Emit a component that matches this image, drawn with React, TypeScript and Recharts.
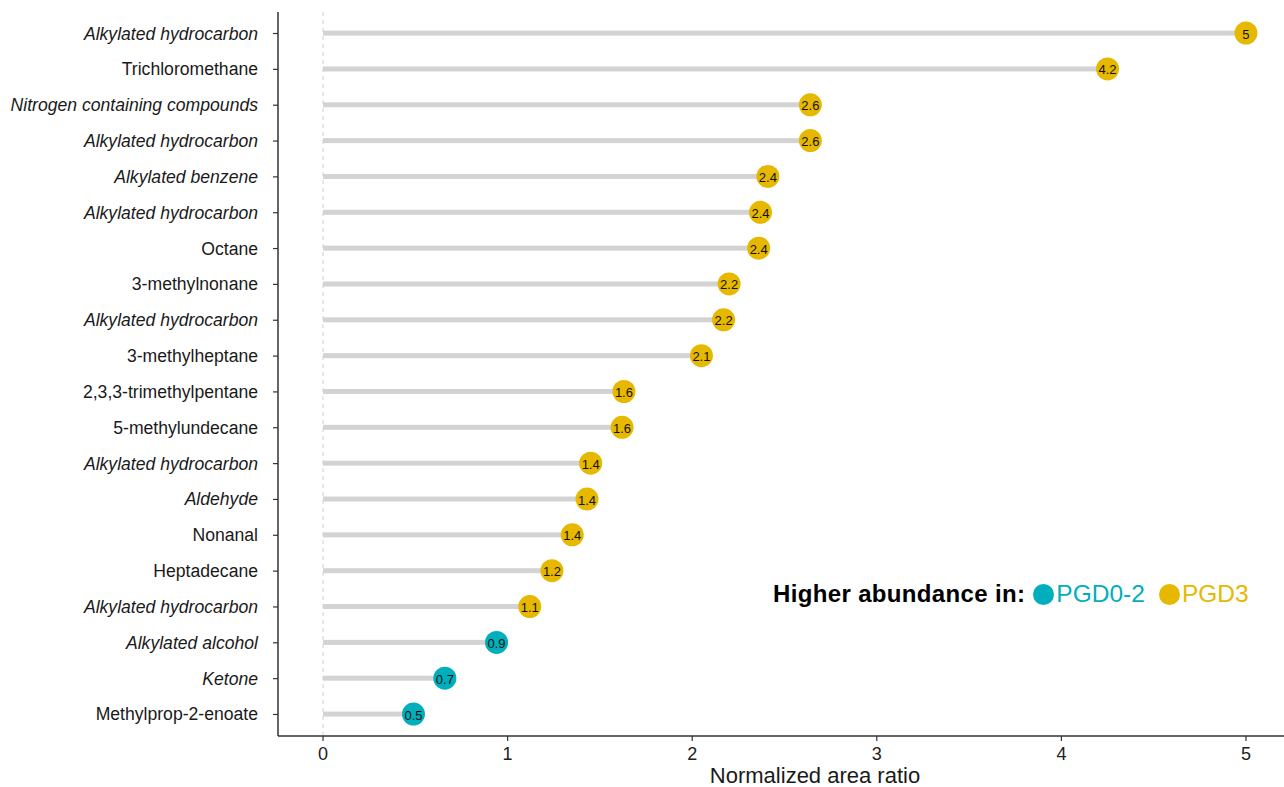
import React from "react";
import { ComposedChart, Bar, XAxis, YAxis, ReferenceLine, Label } from "recharts";

const categories = [
  "Alkylated hydrocarbon",
  "Trichloromethane",
  "Nitrogen containing compounds",
  "Alkylated hydrocarbon",
  "Alkylated benzene",
  "Alkylated hydrocarbon",
  "Octane",
  "3-methylnonane",
  "Alkylated hydrocarbon",
  "3-methylheptane",
  "2,3,3-trimethylpentane",
  "5-methylundecane",
  "Alkylated hydrocarbon",
  "Aldehyde",
  "Nonanal",
  "Heptadecane",
  "Alkylated hydrocarbon",
  "Alkylated alcohol",
  "Ketone",
  "Methylprop-2-enoate",
];
const italicFlags = [true, false, true, true, true, true, false, false, true, false, false, false, true, true, false, false, true, true, true, false];
const values = [5.0, 4.25, 2.64, 2.64, 2.41, 2.37, 2.36, 2.2, 2.17, 2.05, 1.63, 1.62, 1.45, 1.43, 1.35, 1.24, 1.12, 0.94, 0.66, 0.49];
const valueLabels = ["5", "4.2", "2.6", "2.6", "2.4", "2.4", "2.4", "2.2", "2.2", "2.1", "1.6", "1.6", "1.4", "1.4", "1.4", "1.2", "1.1", "0.9", "0.7", "0.5"];
const groups = ["PGD3", "PGD3", "PGD3", "PGD3", "PGD3", "PGD3", "PGD3", "PGD3", "PGD3", "PGD3", "PGD3", "PGD3", "PGD3", "PGD3", "PGD3", "PGD3", "PGD3", "PGD0-2", "PGD0-2", "PGD0-2"];
const xTicks = [0, 1, 2, 3, 4, 5];
const legendItems = ["PGD0-2", "PGD3"];
const groupColors: Record<string, string> = { "PGD0-2": "#00AFBB", PGD3: "#E7B800" };

const data = categories.map((name, i) => ({
  id: String(i),
  name,
  value: values[i],
  label: valueLabels[i],
  group: groups[i],
  italic: italicFlags[i],
}));

const FONT = "'Liberation Sans', Arial, sans-serif";

const YTick = (props: any) => {
  const { x, y, payload } = props;
  const d = data[Number(payload.value)];
  if (!d) return null;
  return (
    <text
      x={x}
      y={y}
      textAnchor="end"
      dominantBaseline="central"
      fontFamily={FONT}
      fontSize={17.6}
      fontStyle={d.italic ? "italic" : "normal"}
      fill="#1a1a1a"
    >
      {d.name}
    </text>
  );
};

const LollipopShape = (props: any) => {
  const { x, y, width, height, payload } = props;
  const cy = y + height / 2;
  const cx = x + width;
  return (
    <g>
      <rect x={x} y={y} width={Math.max(width, 0)} height={height} fill="#D3D3D3" />
      <circle cx={cx} cy={cy} r={11.5} fill={groupColors[payload.group]} />
      <text
        x={cx}
        y={cy + 1}
        textAnchor="middle"
        dominantBaseline="central"
        fontFamily={FONT}
        fontSize={13}
        fill="#111"
      >
        {payload.label}
      </text>
    </g>
  );
};

export default function App() {
  return (
    <div style={{ position: "absolute", left: 0, top: 0, width: 1284, height: 787, background: "#fff" }}>
      <ComposedChart
        width={1284}
        height={787}
        data={data}
        layout="vertical"
        margin={{ top: 12, right: 0, bottom: 0, left: 0 }}
      >
        <XAxis
          type="number"
          domain={[-0.244, 5.206]}
          allowDataOverflow
          ticks={xTicks}
          height={51}
          tickSize={5}
          tickMargin={6}
          axisLine={{ stroke: "#333", strokeWidth: 1.5 }}
          tickLine={{ stroke: "#333", strokeWidth: 1.2 }}
          tick={{ fill: "#222", fontSize: 18, fontFamily: FONT }}
        >
          <Label
            content={(p: any) => {
              const vb = p.viewBox;
              return (
                <text
                  x={vb.x + vb.width / 2 + 34}
                  y={783}
                  textAnchor="middle"
                  fontFamily={FONT}
                  fontSize={22}
                  fill="#1a1a1a"
                >
                  Normalized area ratio
                </text>
              );
            }}
          />
        </XAxis>
        <YAxis
          type="category"
          dataKey="id"
          width={278}
          tickSize={5}
          tickMargin={15}
          padding={{ top: 3.6, bottom: 3.6 }}
          axisLine={{ stroke: "#333", strokeWidth: 1.5 }}
          tickLine={{ stroke: "#333", strokeWidth: 1.2 }}
          tick={<YTick />}
          interval={0}
        />
        <ReferenceLine x={0} stroke="#cfcfcf" strokeDasharray="4 4" strokeWidth={1} />
        <Bar dataKey="value" barSize={5} isAnimationActive={false} shape={<LollipopShape />} />
      </ComposedChart>
      <div
        style={{
          position: "absolute",
          left: 773,
          top: 578,
          display: "flex",
          alignItems: "center",
          fontFamily: FONT,
          fontSize: 24.5,
          whiteSpace: "nowrap",
          lineHeight: "32px",
        }}
      >
        <span style={{ fontWeight: "bold", color: "#000", fontSize: 24, letterSpacing: 0.35 }}>Higher abundance in:</span>
        {legendItems.map((g, i) => (
          <span key={g} style={{ display: "flex", alignItems: "center", marginLeft: i === 0 ? 8 : 14 }}>
            <span
              style={{
                display: "inline-block",
                width: 21,
                height: 21,
                borderRadius: "50%",
                background: groupColors[g],
                marginRight: 2,
              }}
            />
            <span style={{ color: groupColors[g] }}>{g}</span>
          </span>
        ))}
      </div>
    </div>
  );
}
